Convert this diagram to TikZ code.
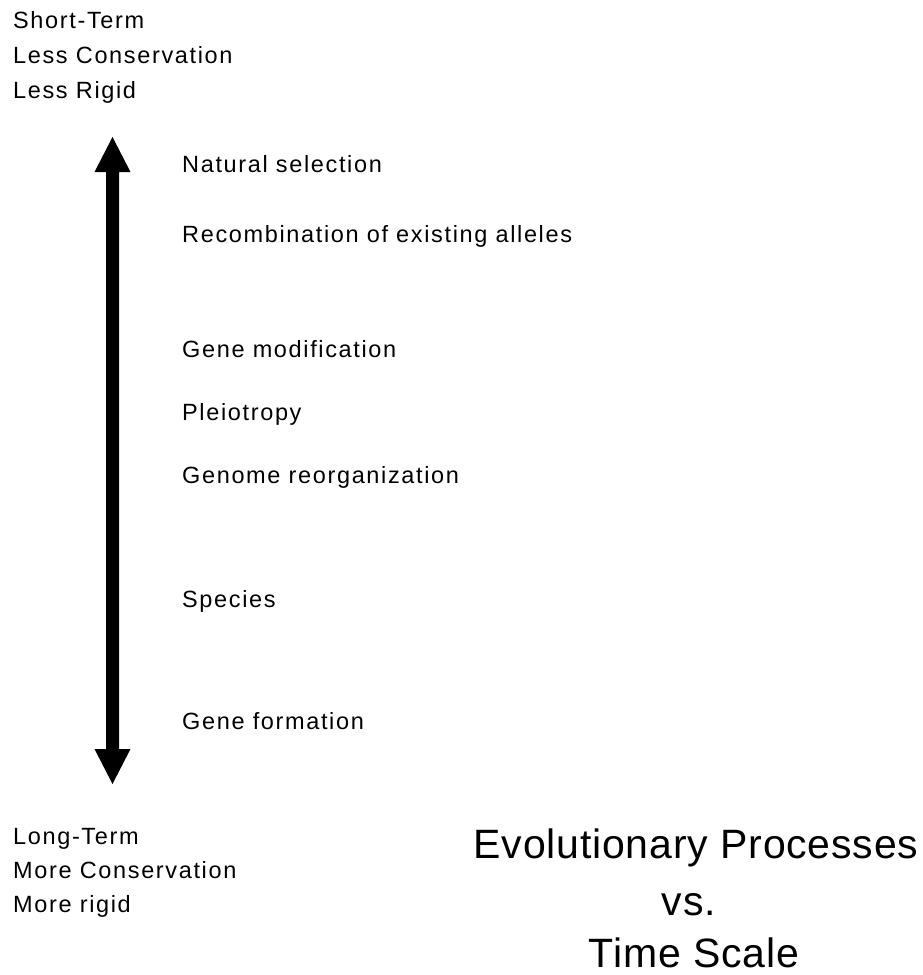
\documentclass[tikz,border=0pt]{standalone}
\usepackage{fontspec}
\setmainfont{Liberation Sans}
\newfontfamily\lblfont[LetterSpace=7]{Liberation Sans}
\newfontfamily\ttlfont[LetterSpace=2]{Liberation Sans}
\begin{document}
\begin{tikzpicture}[x=1pt,y=-1pt,
  lbl/.style={anchor=base west,inner sep=0pt,font=\lblfont\fontsize{23.5}{28}\selectfont},
  ttl/.style={anchor=base,inner sep=0pt,font=\ttlfont\fontsize{41}{48}\selectfont}]
\fill[white] (0,0) rectangle (922,975);
\useasboundingbox (0,0) rectangle (922,975);

% double-headed time arrow
\coordinate (top) at (112.5,137);
\coordinate (bot) at (112.5,784);
\fill[black] (top) -- ++(18,35) -- ++(-11.5,0) -- ++(0,577) -- ++(11.5,0)
  -- (bot) -- ++(-18,-35) -- ++(11.5,0) -- ++(0,-577) -- ++(-11.5,0) -- cycle;

% short-term end
\node[lbl] (st1) at (13,28) {Short-Term};
\node[lbl] (st2) at (13,63) {Less Conservation};
\node[lbl] (st3) at (13,98) {Less Rigid};

% processes
\node[lbl] (p1) at (182,172) {Natural selection};
\node[lbl] (p2) at (182,242) {Recombination of existing alleles};
\node[lbl] (p3) at (182,357) {Gene modification};
\node[lbl] (p4) at (182,420) {Pleiotropy};
\node[lbl] (p5) at (182,483) {Genome reorganization};
\node[lbl] (p6) at (182,607) {Species};
\node[lbl] (p7) at (182,729) {Gene formation};

% long-term end
\node[lbl] (lt1) at (13,844) {Long-Term};
\node[lbl] (lt2) at (13,878) {More Conservation};
\node[lbl] (lt3) at (13,912) {More rigid};

% title
\node[ttl] (t1) at (696,858) {Evolutionary Processes};
\node[ttl] (t2) at (689,915) {vs.};
\node[ttl] (t3) at (694,967) {Time Scale};
\end{tikzpicture}
\end{document}
